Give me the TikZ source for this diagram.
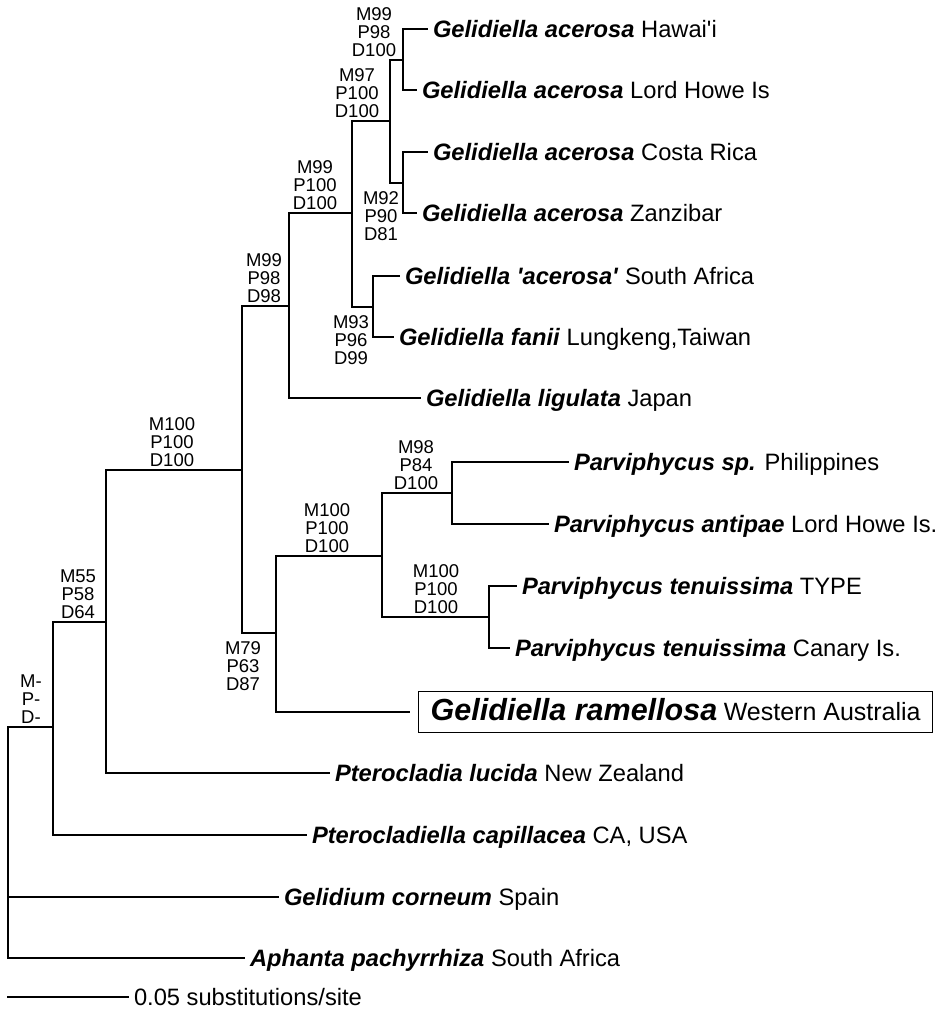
\documentclass[tikz,border=0pt]{standalone}
\usepackage{fontspec}
\setmainfont{Liberation Sans}
\usetikzlibrary{positioning}
\newcommand{\taxfont}{\fontsize{23.7}{28}\selectfont}
\newcommand{\supfont}{\fontsize{18.5}{18.3}\selectfont}
\newcommand{\spname}[1]{\textbf{\textit{#1}}}
\newcommand{\q}{\textquotesingle}

\begin{document}
\begin{tikzpicture}[x=1pt, y=-1pt,
                    branch/.style={line width=2.6pt, line cap=rect},
                    taxon/.style={anchor=west, inner sep=0pt, outer xsep=6pt, text height=17pt, text depth=0pt, font=\taxfont},
                    supp/.style={align=center, inner sep=0pt, font=\supfont}]
  \useasboundingbox (0,0) rectangle (949,1011);
  % taxa
  \node[taxon] (l1)  at (427,29)  {\spname{Gelidiella acerosa} Hawai\q i};
  \node[taxon] (l2)  at (416,90)  {\spname{Gelidiella acerosa} Lord Howe Is};
  \node[taxon] (l3)  at (427,152) {\spname{Gelidiella acerosa} Costa Rica};
  \node[taxon] (l4)  at (416,213) {\spname{Gelidiella acerosa} Zanzibar};
  \node[taxon] (l5)  at (399,276) {\spname{Gelidiella \q acerosa\q} South Africa};
  \node[taxon] (l6)  at (393,337) {\spname{Gelidiella fanii} Lungkeng,Taiwan};
  \node[taxon] (l7)  at (420,398) {\spname{Gelidiella ligulata} Japan};
  \node[taxon] (l8)  at (568,462) {\spname{Parviphycus sp.} Philippines};
  \node[taxon] (l9)  at (548,524) {\spname{Parviphycus antipae} Lord Howe Is.};
  \node[taxon] (l10) at (516,586) {\spname{Parviphycus tenuissima} TYPE};
  \node[taxon] (l11) at (509,648) {\spname{Parviphycus tenuissima} Canary Is.};
  \node[taxon, draw, line width=1.4pt, outer xsep=9.7pt, minimum width=514pt, minimum height=41pt]
    (l12) at (409,712) {\spname{\fontsize{30.5}{33}\selectfont Gelidiella ramellosa} {\fontsize{25}{28}\selectfont Western Australia}};
  \node[taxon] (l13) at (329,773) {\spname{Pterocladia lucida} New Zealand};
  \node[taxon] (l14) at (306,835) {\spname{Pterocladiella capillacea} CA, USA};
  \node[taxon] (l15) at (278,897) {\spname{Gelidium corneum} Spain};
  \node[taxon] (l16) at (244,958) {\spname{Aphanta pachyrrhiza} South Africa};
  % internal nodes
  \coordinate (nA) at (403,60);
  \coordinate (nC) at (403,183);
  \coordinate (nB) at (390,121);
  \coordinate (nE) at (373,307);
  \coordinate (nD) at (352,213);
  \coordinate (nF) at (289,306);
  \coordinate (nH) at (452,493);
  \coordinate (nJ) at (489,617);
  \coordinate (nI) at (382,556);
  \coordinate (nK) at (276,633);
  \coordinate (nG) at (242,470);
  \coordinate (nL) at (106,622);
  \coordinate (nM) at (53,727);
  \coordinate (root) at (8,727);
  % branches
  \draw[branch] (root) -- (nM) (root) |- (l15.west) (root) |- (l16.west);
  \draw[branch] (nM) |- (nL) (nM) |- (l14.west);
  \draw[branch] (nL) |- (nG) (nL) |- (l13.west);
  \draw[branch] (nG) |- (nF) (nG) |- (nK);
  \draw[branch] (nF) |- (nD) (nF) |- (l7.west);
  \draw[branch] (nD) |- (nB) (nD) |- (nE);
  \draw[branch] (nB) |- (nA) (nB) |- (nC);
  \draw[branch] (nA) |- (l1.west) (nA) |- (l2.west);
  \draw[branch] (nC) |- (l3.west) (nC) |- (l4.west);
  \draw[branch] (nE) |- (l5.west) (nE) |- (l6.west);
  \draw[branch] (nK) |- (nI) (nK) |- (l12.west);
  \draw[branch] (nI) |- (nH) (nI) |- (nJ);
  \draw[branch] (nH) |- (l8.west) (nH) |- (l9.west);
  \draw[branch] (nJ) |- (l10.west) (nJ) |- (l11.west);
  % support values (ML, MP, distance)
  \node[supp, above=3pt] (sA) at (374,60)  {M99\\P98\\D100};
  \node[supp, above=3pt] (sB) at (357,121) {M97\\P100\\D100};
  \node[supp, below=8pt] (sC) at (381,183) {M92\\P90\\D81};
  \node[supp, above=3pt] (sD) at (315,213) {M99\\P100\\D100};
  \node[supp, below=8pt] (sE) at (351,307) {M93\\P96\\D99};
  \node[supp, above=3pt] (sF) at (264,306) {M99\\P98\\D98};
  \node[supp, above=3pt] (sG) at (172,470) {M100\\P100\\D100};
  \node[supp, above=3pt] (sH) at (416,493) {M98\\P84\\D100};
  \node[supp, above=3pt] (sI) at (327,556) {M100\\P100\\D100};
  \node[supp, above=3pt] (sJ) at (436,617) {M100\\P100\\D100};
  \node[supp, below=8pt] (sK) at (243,633) {M79\\P63\\D87};
  \node[supp, above=3pt] (sL) at (78,622)  {M55\\P58\\D64};
  \node[supp, above=3pt] (sM) at (31,727)  {M-\\P-\\D-};
  % scale bar
  \coordinate (sb) at (8,997);
  \node[taxon] (sbl) at (128,997) {0.05 substitutions/site};
  \draw[branch] (sb) -- (sbl.west);
\end{tikzpicture}
\end{document}
